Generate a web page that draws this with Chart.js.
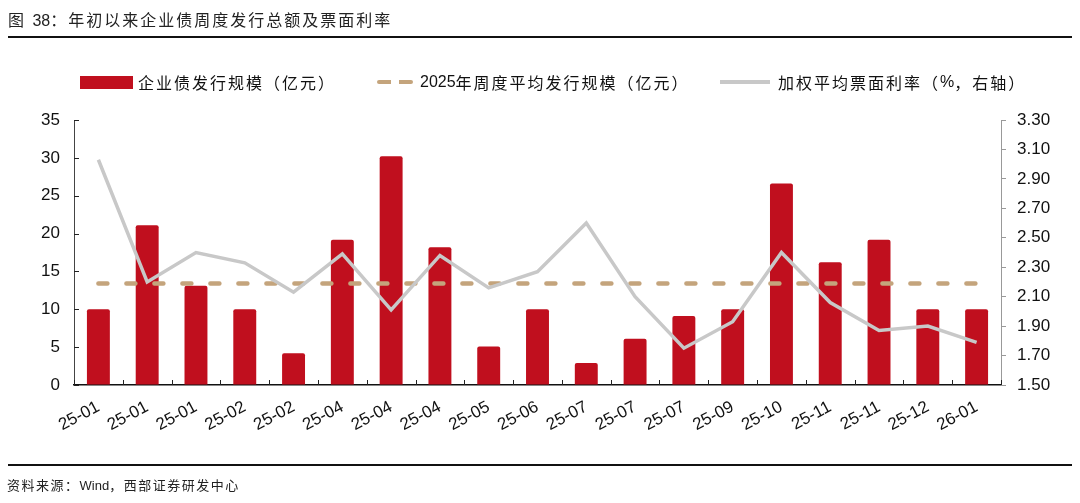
<!DOCTYPE html>
<html lang="zh">
<head>
  <meta charset="UTF-8">
  <title>年初以来企业债周度发行总额及票面利率</title>
  <script src="https://cdn.jsdelivr.net/npm/chart.js"></script>
  <style>
    body {
      margin: 0;
      background: #fff;
      font-family: "Liberation Sans", "Noto Sans CJK SC", sans-serif;
      color: #111;
    }

    .page {
      position: relative;
      width: 1080px;
      height: 503px;
      overflow: hidden;
    }

    .chart-box {
      position: absolute;
      left: 0;
      top: 0;
      width: 1080px;
      height: 503px;
    }

    .title {
      position: absolute;
      left: 8px;
      top: 7px;
      font-size: 16px;
      letter-spacing: 2px;
      color: #222;
    }

    .rule {
      position: absolute;
      left: 8px;
      width: 1064px;
      height: 2px;
      background: #111;
    }

    .source {
      position: absolute;
      left: 7px;
      top: 475px;
      font-size: 13px;
      letter-spacing: 1.5px;
      color: #222;
    }

    .lat { letter-spacing: 0; }

    .legend-item {
      position: absolute;
      top: 72px;
      height: 20px;
      display: flex;
      align-items: center;
      font-size: 16px;
      letter-spacing: 2px;
      color: #111;
      white-space: nowrap;
    }

    .swatch { margin-right: 5px; }
    .swatch.bar { width: 53px; height: 13px; background: #C00F1E; }
    .swatch.dash { width: 36px; height: 4px;
      background: linear-gradient(to right, #C4A47C 0 14px, transparent 14px 22px, #C4A47C 22px 36px);
      border-radius: 2px; margin-right: 7px; }
    .swatch.line { width: 50px; height: 4px; background: #C8C8C8; margin-right: 8px; }
  </style>
</head>
<body>

  <div class="page">
    <div class="chart-box"><canvas id="chart"></canvas></div>

    <div class="title">图 <span class="lat">38</span>：年初以来企业债周度发行总额及票面利率</div>
    <div class="rule" style="top: 36px;"></div>

    <div class="legend-item" style="left: 80px;"><span class="swatch bar"></span>企业债发行规模（亿元）</div>
    <div class="legend-item" style="left: 377px;"><span class="swatch dash"></span><span class="lat">2025</span>年周度平均发行规模（亿元）</div>
    <div class="legend-item" style="left: 720px;"><span class="swatch line"></span>加权平均票面利率（<span class="lat">%</span>，右轴）</div>

    <div class="rule" style="top: 464px;"></div>
    <div class="source">资料来源：<span class="lat">Wind</span>，西部证券研发中心</div>
  </div>

  <script>
    // данные с картинки
    const weeks = ['25-01', '25-01', '25-01', '25-02', '25-02', '25-04', '25-04', '25-04', '25-05', '25-06',
                   '25-07', '25-07', '25-07', '25-09', '25-10', '25-11', '25-11', '25-12', '26-01'];
    const issueAmount = [10, 21.1, 13.1, 10, 4.2, 19.2, 30.2, 18.2, 5.1, 10,
                         2.9, 6.1, 9.1, 10, 26.6, 16.2, 19.2, 10, 10];
    const avgAmount2025 = [13.4, 13.4, 13.4, 13.4, 13.4, 13.4, 13.4, 13.4, 13.4, 13.4,
                           13.4, 13.4, 13.4, 13.4, 13.4, 13.4, 13.4, 13.4, 13.4];
    const couponRate = [3.03, 2.20, 2.40, 2.33, 2.13, 2.39, 2.01, 2.38, 2.16, 2.27,
                        2.60, 2.10, 1.75, 1.93, 2.40, 2.06, 1.87, 1.90, 1.79];
    const amountTicks = [0, 5, 10, 15, 20, 25, 30, 35];
    const rateTicks = [1.5, 1.7, 1.9, 2.1, 2.3, 2.5, 2.7, 2.9, 3.1, 3.3];

    const tickFont = {family: '"Liberation Sans", Arial, sans-serif', size: 17};

    // короткие засечки внутрь области графика (ось X и левая ось)
    const innerTicks = {
      id: 'innerTicks',
      afterDraw(chart) {
        const ctx = chart.ctx;
        const x = chart.scales.x;
        const y = chart.scales.y;
        const area = chart.chartArea;
        const step = x.getPixelForValue(1) - x.getPixelForValue(0);
        ctx.save();
        ctx.lineWidth = 1;
        ctx.strokeStyle = '#222';
        ctx.beginPath();
        for (let i = 0; i <= weeks.length; i++) {
          const px = Math.round(x.getPixelForValue(i) - step / 2) + 0.5;
          ctx.moveTo(px, area.bottom);
          ctx.lineTo(px, area.bottom - 5);
        }
        y.ticks.forEach(t => {
          const py = Math.round(y.getPixelForValue(t.value)) + 0.5;
          ctx.moveTo(area.left, py);
          ctx.lineTo(area.left + 5, py);
        });
        ctx.stroke();
        ctx.restore();
      }
    };

    const config = {
      type: 'bar',
      data: {
        labels: weeks,
        datasets: [
          {
            type: 'line',
            label: '加权平均票面利率（%，右轴）',
            data: couponRate,
            yAxisID: 'y1',
            borderColor: '#C8C8C8',
            borderWidth: 3.5,
            pointRadius: 0,
            tension: 0,
            fill: false,
            order: 0
          },
          {
            type: 'line',
            label: '2025年周度平均发行规模（亿元）',
            data: avgAmount2025,
            yAxisID: 'y',
            borderColor: '#C4A47C',
            borderWidth: 4.5,
            borderDash: [9, 19],
            borderCapStyle: 'round',
            pointRadius: 0,
            fill: false,
            order: 1
          },
          {
            label: '企业债发行规模（亿元）',
            data: issueAmount,
            yAxisID: 'y',
            backgroundColor: '#C00F1E',
            borderRadius: 2,
            borderSkipped: 'bottom',
            categoryPercentage: 1,
            barPercentage: 0.47,
            order: 2
          }
        ]
      },
      options: {
        responsive: true,
        maintainAspectRatio: false,
        animation: false,
        layout: {padding: {top: 120, bottom: 58, left: 0, right: 0}},
        plugins: {
          legend: {display: false},
          tooltip: {enabled: false}
        },
        scales: {
          x: {
            grid: {display: false},
            border: {display: true, color: '#111', width: 1.5},
            ticks: {
              color: '#111', font: tickFont,
              maxRotation: 28, minRotation: 28,
              autoSkip: false, padding: 4
            },
            afterFit(scale) { scale.height = 60; }
          },
          y: {
            position: 'left',
            min: 0, max: 35,
            afterBuildTicks(scale) { scale.ticks = amountTicks.map(v => ({value: v})); },
            grid: {drawOnChartArea: false, drawTicks: false},
            border: {display: true, color: '#444', width: 1},
            ticks: {color: '#111', font: tickFont, padding: 14},
            afterFit(scale) { scale.width = 74; }
          },
          y1: {
            position: 'right',
            min: 1.5, max: 3.3,
            afterBuildTicks(scale) { scale.ticks = rateTicks.map(v => ({value: v})); },
            grid: {drawOnChartArea: false, drawTicks: true, tickLength: 5, color: '#999'},
            border: {display: true, color: '#999', width: 1},
            ticks: {
              color: '#111', font: tickFont, padding: 11,
              callback: v => Number(v).toFixed(2)
            },
            afterFit(scale) { scale.width = 79; }
          }
        }
      },
      plugins: [innerTicks]
    };

    new Chart(document.getElementById('chart').getContext('2d'), config);
  </script>

</body>
</html>
